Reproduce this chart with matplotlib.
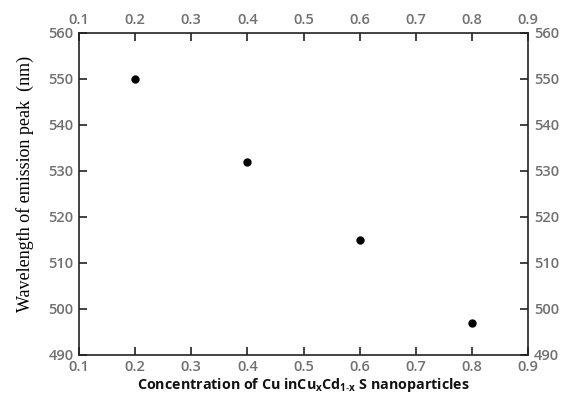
import matplotlib
matplotlib.use('Agg')
import matplotlib.pyplot as plt

plt.rcParams['mathtext.fontset'] = 'custom'
plt.rcParams['mathtext.rm'] = 'Open Sans:bold'
plt.rcParams['mathtext.it'] = 'Open Sans:bold'
plt.rcParams['mathtext.bf'] = 'Open Sans:bold'

# Cu concentration x and emission peak wavelength (nm)
conc = [0.2, 0.4, 0.6, 0.8]
wavelength = [550, 532, 515, 497]

xticks = [0.1, 0.2, 0.3, 0.4, 0.5, 0.6, 0.7, 0.8, 0.9]
yticks = [490, 500, 510, 520, 530, 540, 550, 560]

fig = plt.figure(figsize=(5.68, 3.97), dpi=100)
ax = fig.add_axes([0.139, 0.106, 0.791, 0.811])

ax.plot(conc, wavelength, 'o', color='black', markersize=5, linestyle='none')

ax.set_xlim(0.1, 0.9)
ax.set_ylim(490, 560)
ax.set_xticks(xticks)
ax.set_yticks(yticks)
ax.set_xticklabels(['%.1f' % t for t in xticks])
ax.set_yticklabels([str(t) for t in yticks])

for s in ax.spines.values():
    s.set_linewidth(1.2)
    s.set_color('#222222')

ax.tick_params(direction='in', length=6, width=1.2, color='#222222',
               top=True, right=True, labeltop=True, labelright=True,
               labelsize=10.5, labelcolor='#707070', pad=4)
for lab in ax.get_xticklabels() + ax.get_yticklabels():
    lab.set_family('Open Sans')
    lab.set_fontweight('semibold')

ax.set_xlabel('Concentration of Cu inCu$_{\\mathregular{x}}$Cd$_{\\mathregular{1\u2010x}}$ S nanoparticles',
              fontsize=10.3, fontweight='bold', family='Open Sans', labelpad=1,
              color='#111111')
ax.set_ylabel('Wavelength of emission peak  (nm)', fontsize=13,
              family='Liberation Serif', labelpad=8)
ax.yaxis.set_label_coords(-0.1, 0.53)

fig.savefig('out.png', dpi=100)
